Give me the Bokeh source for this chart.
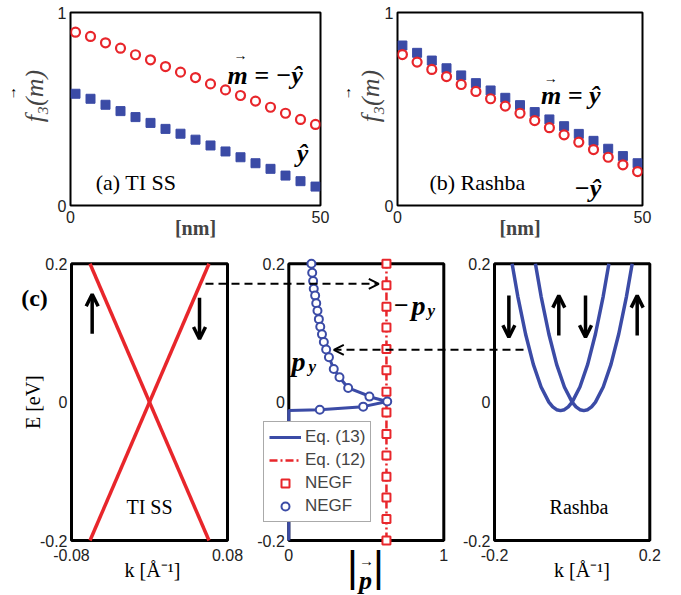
import math
from bokeh.plotting import figure
from bokeh.layouts import row, column
from bokeh.models import (Range1d, FixedTicker, Label, Arrow, OpenHead, Legend, LegendItem,
                          LinearAxis, BoxAnnotation)
from bokeh.embed import file_html
from bokeh.resources import INLINE

# ---------------- data ----------------
depth_nm = [1, 4, 7, 10, 13, 16, 19, 22, 25, 28, 31, 34, 37, 40, 43, 46, 49]
tiss_m_minus_y = [0.898, 0.876, 0.843, 0.815, 0.781, 0.755, 0.720, 0.691, 0.663,
                  0.630, 0.599, 0.570, 0.541, 0.509, 0.478, 0.446, 0.420]
tiss_m_plus_y = [0.579, 0.553, 0.522, 0.489, 0.458, 0.428, 0.397, 0.372, 0.341,
                 0.311, 0.280, 0.250, 0.219, 0.190, 0.155, 0.126, 0.098]
rashba_m_plus_y = [0.829, 0.791, 0.751, 0.711, 0.674, 0.634, 0.596, 0.558, 0.520,
                   0.484, 0.446, 0.411, 0.371, 0.335, 0.294, 0.256, 0.219]
rashba_m_minus_y = [0.782, 0.743, 0.705, 0.668, 0.627, 0.591, 0.553, 0.515, 0.478,
                    0.440, 0.403, 0.366, 0.328, 0.290, 0.250, 0.211, 0.176]

# TI surface state bands (k in 1/A, E in eV)
tiss_k_a = [-0.061, 0.061]
tiss_E_a = [-0.2, 0.2]
tiss_k_b = [-0.061, 0.061]
tiss_E_b = [0.2, -0.2]

# Rashba bands
rashba_k_a = [-0.1546, -0.14, -0.12, -0.10, -0.08, -0.06, -0.05, -0.04, -0.03,
              -0.02, -0.01, 0.0, 0.02, 0.04, 0.06, 0.08, 0.0946]
rashba_E_a = [0.200, 0.153, 0.0985, 0.0547, 0.0219, 0.0, -0.0068, -0.0109, -0.0123,
              -0.0109, -0.0068, 0.0, 0.0219, 0.0547, 0.0985, 0.153, 0.200]
rashba_k_b = [-0.0946, -0.08, -0.06, -0.04, -0.02, 0.0, 0.01, 0.02, 0.03,
              0.04, 0.05, 0.06, 0.08, 0.10, 0.12, 0.14, 0.1546]
rashba_E_b = [0.200, 0.153, 0.0985, 0.0547, 0.0219, 0.0, -0.0068, -0.0109, -0.0123,
              -0.0109, -0.0068, 0.0, 0.0219, 0.0547, 0.0985, 0.153, 0.200]

# |p| vs E
eq12_p = [0.63, 0.63]
eq12_E = [-0.2, 0.2]
negf_sq_E = [0.2, 0.169, 0.138, 0.108, 0.077, 0.046, 0.015, -0.015, -0.046,
             -0.077, -0.108, -0.138, -0.169, -0.2]
negf_sq_p = [0.63] * len(negf_sq_E)
eq13_p = [0.0, 0.0, 0.20, 0.48, 0.635, 0.55, 0.383, 0.327, 0.290, 0.259, 0.226,
          0.203, 0.185, 0.170, 0.157, 0.146]
eq13_E = [-0.2, -0.012, -0.011, -0.0065, 0.001, 0.006, 0.0205, 0.036, 0.048, 0.065,
          0.087, 0.109, 0.132, 0.154, 0.175, 0.2]
negf_circ_p = [0.146, 0.151, 0.157, 0.161, 0.170, 0.177, 0.185, 0.194, 0.203, 0.214,
               0.226, 0.241, 0.259, 0.290, 0.327, 0.383, 0.52, 0.635, 0.48, 0.20]
negf_circ_E = [0.200, 0.187, 0.175, 0.164, 0.154, 0.143, 0.132, 0.120, 0.109, 0.098,
               0.087, 0.076, 0.065, 0.048, 0.036, 0.0205, 0.008, 0.001, -0.0065, -0.011]

# tick labels
E_ticks = [-0.2, 0.0, 0.2]
E_tick_text = ["-0.2", "0", "0.2"]
k1_ticks = [-0.08, 0.08]
k1_tick_text = ["-0.08", "0.08"]
p_ticks = [0, 1]
p_tick_text = ["0", "1"]
k3_ticks = [-0.2, 0.2]
k3_tick_text = ["-0.2", "0.2"]

RED = "#e8262b"
BLUE = "#3b4ba6"
SERIF = "Liberation Serif"
SANS = "Liberation Sans"
NB = "\u00a0"


# ---------------- top row (real axes) ----------------
def top_panel(w, bl, br, y_std, arr_std, arr_text):
    p = figure(width=w, height=245, x_range=Range1d(0, 50), y_range=Range1d(0, 1),
               output_backend="svg", toolbar_location=None,
               min_border_left=bl, min_border_right=br,
               min_border_top=12, min_border_bottom=40)
    p.grid.visible = False
    p.outline_line_color = "black"
    p.outline_line_width = 2
    p.outline_line_alpha = 1.0
    p.xaxis.ticker = FixedTicker(ticks=[0, 50])
    p.yaxis.ticker = FixedTicker(ticks=[0, 1])
    for ax in (p.xaxis[0], p.yaxis[0]):
        ax.axis_line_color = None
        ax.major_tick_in = 4
        ax.major_tick_out = 0
        ax.minor_tick_line_color = None
        ax.major_label_text_font = SANS
        ax.major_label_text_font_size = "16px"
        ax.major_label_text_color = "#222222"
    p.xaxis.major_label_standoff = 5
    p.yaxis.major_label_standoff = 4
    p.yaxis.axis_label = NB * 4 + "f₃(m)"
    p.yaxis.axis_label_text_font = SERIF
    p.yaxis.axis_label_text_font_style = "italic"
    p.yaxis.axis_label_text_font_size = "26px"
    p.yaxis.axis_label_standoff = y_std
    p.xaxis.axis_label = "[nm]"
    p.xaxis.axis_label_text_font = SERIF
    p.xaxis.axis_label_text_font_style = "bold"
    p.xaxis.axis_label_text_font_size = "20px"
    p.xaxis.axis_label_standoff = -9
    ax2 = LinearAxis(ticker=FixedTicker(ticks=[]), axis_label=arr_text,
                     axis_line_color=None, major_tick_line_color=None,
                     minor_tick_line_color=None, major_label_text_font_size="0px",
                     major_tick_out=0, major_tick_in=0, major_label_standoff=0,
                     axis_label_text_font=SERIF, axis_label_text_font_size="14px",
                     axis_label_text_font_style="normal",
                     axis_label_text_color="black", axis_label_standoff=arr_std)
    p.add_layout(ax2, "left")
    return p


def lab(p, x, y, text, size, style="normal", font=SERIF, align="center",
        baseline="middle", rname="default", angle=0.0, color="black", xoff=0):
    p.add_layout(Label(x=x, y=y, text=text, text_font=font, text_font_size=size,
                       text_font_style=style, text_align=align, text_baseline=baseline,
                       text_color=color, x_range_name=rname, angle=angle, x_offset=xoff))


ARR = NB * 9 + "→"
pa = top_panel(335, 70, 15, 6, -2, ARR)
pa.scatter(depth_nm, tiss_m_minus_y, marker="circle", size=9, line_color=RED,
           fill_color="white", line_width=2.2)
pa.scatter(depth_nm, tiss_m_plus_y, marker="square", size=9, line_color=BLUE,
           fill_color=BLUE, line_width=1)
lab(pa, 13.1, 0.117, "(a) TI SS", "22px")
lab(pa, 31.4, 0.676, "m = −ŷ", "26px", "bold italic", align="left")
lab(pa, 34.0, 0.775, "→", "14px")
lab(pa, 46.4, 0.27, "ŷ", "26px", "bold italic")

pb = top_panel(346, 57, 39, -3, -1, ARR)
pb.scatter(depth_nm, rashba_m_plus_y, marker="square", size=9, line_color=BLUE,
           fill_color=BLUE, line_width=1)
pb.scatter(depth_nm, rashba_m_minus_y, marker="circle", size=9, line_color=RED,
           fill_color="white", line_width=2.2)
lab(pb, 16.3, 0.117, "(b) Rashba", "22px")
lab(pb, 29.3, 0.57, "m = ŷ", "26px", "bold italic", align="left")
lab(pb, 31.3, 0.66, "→", "14px")
lab(pb, 36.0, 0.09, "−ŷ", "26px", "bold italic", align="left")

# ---------------- bottom row: one canvas, three panels on their own ranges --------
BW, BH, BY0 = 681, 350, 245


def xr_for(v0, v1, px0, px1):
    s = (v1 - v0) / (px1 - px0)
    start = v0 - px0 * s
    return Range1d(start, start + BW * s)


ys = 0.4 / (540 - 263.3)
ystart = -0.2 - (BY0 + BH - 540) * ys
yr = Range1d(ystart, ystart + BH * ys)
r1 = xr_for(-0.08, 0.08, 71, 227)
r2 = xr_for(0.0, 1.0, 288.3, 443.3)
r3 = xr_for(-0.2, 0.2, 494, 649.3)


def dxp(rng, px):
    return rng.start + px * (rng.end - rng.start) / BW


def dyp(py):
    return yr.start + (BY0 + BH - py) * (yr.end - yr.start) / BH


pc = figure(width=BW, height=BH, x_range=r2, y_range=yr, x_axis_location=None,
            y_axis_location=None, min_border=0, output_backend="svg",
            toolbar_location=None)
pc.extra_x_ranges = {"c1": r1, "c3": r3}
pc.grid.visible = False
pc.outline_line_color = None

# panel frames
for rn, (a, b) in (("c1", (-0.08, 0.08)), ("default", (0.0, 1.0)), ("c3", (-0.2, 0.2))):
    pc.add_layout(BoxAnnotation(left=a, right=b, bottom=-0.2, top=0.2, x_range_name=rn,
                                fill_alpha=0, line_color="black", line_width=3,
                                line_alpha=1.0, level="underlay"))

# tick labels
for rn, left, ticks, texts in (("c1", -0.08, k1_ticks, k1_tick_text),
                               ("default", 0.0, p_ticks, p_tick_text),
                               ("c3", -0.2, k3_ticks, k3_tick_text)):
    for ev, et in zip(E_ticks, E_tick_text):
        lab(pc, left, ev, et, "16px", font=SANS, align="right", rname=rn,
            color="#222222", xoff=-4)
    for tv, tt in zip(ticks, texts):
        lab(pc, tv, dyp(554), tt, "16px", font=SANS, rname=rn, color="#222222")

# panel c1: TI SS
pc.line(tiss_k_a, tiss_E_a, line_color=RED, line_width=3.5, x_range_name="c1")
pc.line(tiss_k_b, tiss_E_b, line_color=RED, line_width=3.5, x_range_name="c1")
lab(pc, dxp(r1, 32.5), 0.0, "E [eV]", "20px", rname="c1", angle=math.pi / 2)
lab(pc, dxp(r1, 152), dyp(569), "k [Å⁻¹]", "20px", rname="c1")
lab(pc, 0.0, -0.151, "TI SS", "20px", rname="c1")
lab(pc, dxp(r1, 34), dyp(297), "(c)", "24px", "bold", rname="c1")


def arrow(x0, y0, x1, y1, rname="default", head=True, dash="solid", lw=3.5, hs=12):
    end = OpenHead(size=hs, line_width=lw if dash == "solid" else 2,
                   line_color="black") if head else None
    pc.add_layout(Arrow(end=end, x_start=x0, y_start=y0, x_end=x1, y_end=y1,
                        x_range_name=rname, line_color="black", line_width=lw,
                        line_dash=dash))


arrow(-0.0588, 0.0988, -0.0588, 0.156, "c1")
arrow(0.0513, 0.151, 0.0513, 0.0913, "c1")

# panel c2: |p|
r12 = pc.line(eq12_p, eq12_E, line_color=RED, line_width=2.5, line_dash="8 3 2 3")
r13 = pc.line(eq13_p, eq13_E, line_color=BLUE, line_width=3)
rsq = pc.scatter(negf_sq_p, negf_sq_E, marker="square", size=8, line_color=RED,
                 fill_color="white", line_width=2)
rci = pc.scatter(negf_circ_p, negf_circ_E, marker="circle", size=8, line_color=BLUE,
                 fill_color="white", line_width=2)
arrow(dxp(r2, 205), dyp(283.3), dxp(r2, 378.3), dyp(283.3), dash="8 5", lw=2, hs=10)
arrow(dxp(r2, 523), dyp(349.3), dxp(r2, 333.3), dyp(349.3), dash="8 5", lw=2, hs=10)
lab(pc, dxp(r2, 401), dyp(305), "−", "26px", "bold", baseline="alphabetic")
lab(pc, dxp(r2, 411), dyp(305), "p", "28px", "bold italic", align="left",
    baseline="alphabetic")
lab(pc, dxp(r2, 427), dyp(310), "y", "17px", "bold italic", align="left",
    baseline="alphabetic")
lab(pc, dxp(r2, 291), dyp(361), "p", "28px", "bold italic", align="left",
    baseline="alphabetic")
lab(pc, dxp(r2, 308), dyp(366), "y", "17px", "bold italic", align="left",
    baseline="alphabetic")
# |p| axis label with vector arrow
lab(pc, dxp(r2, 352), dyp(566), "|", "42px", font=SANS)
lab(pc, dxp(r2, 378), dyp(566), "|", "42px", font=SANS)
lab(pc, dxp(r2, 365), dyp(580), "p", "26px", "bold italic", baseline="alphabetic")
lab(pc, dxp(r2, 366), dyp(560), "→", "15px")

legend = Legend(items=[LegendItem(label="Eq. (13)", renderers=[r13]),
                       LegendItem(label="Eq. (12)", renderers=[r12]),
                       LegendItem(label="NEGF", renderers=[rsq]),
                       LegendItem(label="NEGF", renderers=[rci])],
                location=(263, 73))
legend.label_text_font = SANS
legend.label_text_font_size = "17px"
legend.glyph_width = 32
legend.glyph_height = 20
legend.label_height = 20
legend.spacing = 3
legend.padding = 5
legend.margin = 0
legend.label_standoff = 4
legend.border_line_color = "#555555"
legend.border_line_width = 1
legend.background_fill_alpha = 1.0
pc.add_layout(legend)

# panel c3: Rashba
pc.line(rashba_k_a, rashba_E_a, line_color=BLUE, line_width=3.5, x_range_name="c3")
pc.line(rashba_k_b, rashba_E_b, line_color=BLUE, line_width=3.5, x_range_name="c3")
lab(pc, dxp(r3, 581.5), dyp(569), "k [Å⁻¹]", "20px", rname="c3")
lab(pc, 0.0177, -0.151, "Rashba", "20px", rname="c3")
arrow(-0.163, 0.154, -0.163, 0.0938, "c3")
arrow(-0.0344, 0.0962, -0.0344, 0.154, "c3")
arrow(0.0344, 0.154, 0.0344, 0.0938, "c3")
arrow(0.1675, 0.0962, 0.1675, 0.154, "c3")

layout = column(row(pa, pb), pc)
open("out.html", "w").write(file_html(layout, INLINE))
